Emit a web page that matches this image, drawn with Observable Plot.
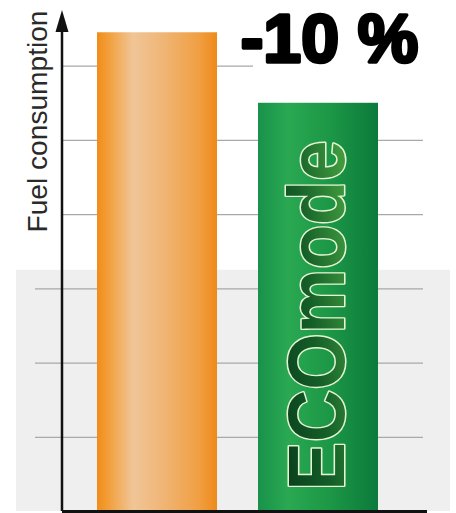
<!DOCTYPE html>
<html><head><meta charset="utf-8">
<script src="https://cdn.jsdelivr.net/npm/d3@7"></script>
<script src="https://cdn.jsdelivr.net/npm/@observablehq/plot@0.6"></script>
<style>html,body{margin:0;padding:0;background:#fff;} #chart svg{display:block;}</style>
</head><body><div id="chart"></div>
<script>
// ---- data ----
const categories = ["Standard", "ECOmode"];
const values = [6.45, 5.5];
const gridTicks = [1, 2, 3, 4, 5, 6];
const yAxisLabel = "Fuel consumption";
const deltaLabel = "-10 %";
const barLabel = "ECOmode";
const grayBandTop = 3.25;
const yMax = 6.75;

const gradIds = ["gradStandard", "gradEco"];
const data = categories.map((c, i) => ({category: c, value: values[i], grad: `url(#${gradIds[i]})`}));

// y axis with arrowhead, drawn from the scales
const axisArrow = (index, scales, vals, dims) => {
  const x0 = dims.marginLeft;
  const yTop = scales.y(yMax), yBot = scales.y(0);
  const g = d3.create("svg:g");
  g.append("line").attr("x1", x0).attr("x2", x0).attr("y1", yBot).attr("y2", yTop + 20)
    .attr("stroke", "#111").attr("stroke-width", 2.5);
  g.append("path").attr("d", `M${x0},${yTop}L${x0 + 6.5},${yTop + 22}L${x0 - 6.5},${yTop + 22}Z`).attr("fill", "#111");
  return g.node();
};

const chart = Plot.plot({
  width: 456, height: 513,
  marginTop: 10, marginBottom: 2, marginLeft: 62, marginRight: 31,
  x: {type: "band", domain: categories, paddingInner: 0.255, paddingOuter: 0.2543, align: 0.427, axis: null},
  y: {domain: [0, yMax], axis: null},
  color: {type: "identity"},
  style: {fontFamily: "'Liberation Sans', Arial, sans-serif", background: "#fff"},
  marks: [
    Plot.rect([{y1: 0, y2: grayBandTop}], {y1: "y1", y2: "y2", fill: "#efefef", insetLeft: -46, insetRight: -25}),
    Plot.ruleY(gridTicks.filter(t => t <= grayBandTop), {stroke: "#a9a9a9", strokeWidth: 1.2, insetLeft: -27, insetRight: 2}),
    Plot.ruleY(gridTicks.filter(t => t > grayBandTop && t < 6), {stroke: "#a9a9a9", strokeWidth: 1.2, insetRight: 2}),
    Plot.ruleY(gridTicks.filter(t => t >= 6), {stroke: "#a9a9a9", strokeWidth: 1.2, insetRight: 172}),
    Plot.barY(data, {x: "category", y: "value", fill: "grad"}),
    Plot.ruleY([0], {stroke: "#111", strokeWidth: 3, insetRight: -2}),
    axisArrow,
    Plot.text([data[1]], {x: "category", y: d => d.value / 2, text: () => barLabel, rotate: -90, dy: 8,
      fontSize: 80, fontWeight: "bold", fill: "url(#gradEcoText)", stroke: "#e6f5d4", strokeWidth: 3, paintOrder: "stroke"}),
    Plot.text([data[0]], {x: () => categories[1], y: "value", text: () => deltaLabel, dx: 11, dy: 7,
      fontSize: 68, fontWeight: "bold", fill: "#000", stroke: "#000", strokeWidth: 3.5, strokeLinejoin: "round"}),
    Plot.text([yAxisLabel], {frameAnchor: "top-left", text: d => d, rotate: -90, textAnchor: "end", dx: -35,
      fontSize: 27, fill: "#2a2a2a"})
  ]
});

// gradients (styles)
const defs = d3.select(chart).insert("defs", ":first-child");
function grad(id, stops, x2 = 1, y2 = 0) {
  const lg = defs.append("linearGradient").attr("id", id).attr("x1", 0).attr("y1", 0).attr("x2", x2).attr("y2", y2);
  stops.forEach(([o, c]) => lg.append("stop").attr("offset", o).attr("stop-color", c));
}
grad("gradStandard", [[0, "#f08c1a"], [0.08, "#f29c34"], [0.3, "#f0c597"], [0.55, "#f0b576"], [0.85, "#f09f42"], [1, "#ee8a18"]]);
grad("gradEco", [[0, "#18924a"], [0.25, "#2aa852"], [0.6, "#1c9746"], [1, "#0c7a3b"]]);
grad("gradEcoText", [[0, "#06361a"], [0.55, "#145e28"], [1, "#3f9a3e"]], 0.5, 1);

d3.select(chart).selectAll("text").each(function () {
  if (this.textContent === barLabel) { this.setAttribute("textLength", 350); this.setAttribute("lengthAdjust", "spacingAndGlyphs"); }
  if (this.textContent === yAxisLabel) { this.setAttribute("textLength", 222); this.setAttribute("lengthAdjust", "spacingAndGlyphs"); }
});

document.getElementById("chart").append(chart);
</script>
</body></html>
